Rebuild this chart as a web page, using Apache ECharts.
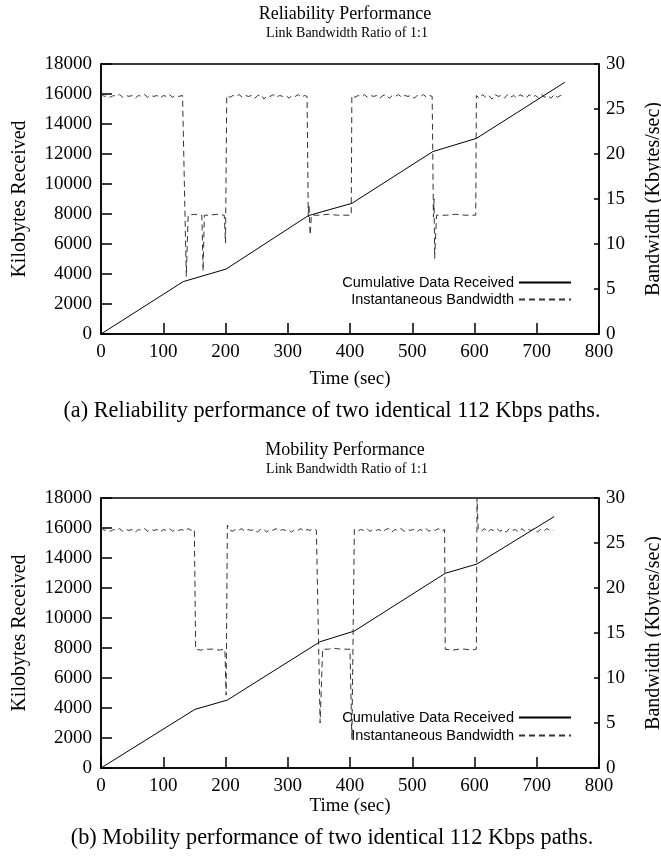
<!DOCTYPE html>
<html>
<head>
<meta charset="utf-8">
<script src="https://cdn.jsdelivr.net/npm/echarts@6/dist/echarts.min.js"></script>
<style>html,body{margin:0;padding:0;background:#fff}#c{width:661px;height:859px}</style>
</head>
<body>
<div id="c"></div>
<script>
// ---------- DATA ----------
var xTicks = [0, 100, 200, 300, 400, 500, 600, 700, 800];
var seriesNames = ['Cumulative Data Received', 'Instantaneous Bandwidth'];

// (a) Reliability: cumulative kilobytes received [time, KB]
var relCumulative = [[0,0],[132,3490],[201,4330],[333,7890],[403,8710],[533,12160],[603,13040],[745,16780]];
// (a) Reliability: instantaneous bandwidth [time, KB/s]
var relBandwidth = [
 [0,26.7],[5,26.4],[10,26.5],[15,26.3],[20,26.5],[25,26.4],[30,26.6],[35,26.3],[40,26.5],[45,26.4],
 [50,26.5],[55,26.2],[60,26.5],[65,26.4],[70,26.6],[75,26.3],[80,26.5],[85,26.4],[90,26.5],[95,26.2],
 [100,26.5],[105,26.4],[110,26.6],[115,26.3],[120,26.5],[125,26.4],[131,26.5],
 [137,6.4],[140,13.2],[150,13.3],[158,13.2],[162,13.2],[164,7.0],[166,13.2],[175,13.2],[185,13.3],[198,13.2],
 [200,10.1],[202,26.5],[207,26.3],[212,26.5],[217,26.4],[222,26.6],[227,26.3],[232,26.5],[237,26.4],
 [242,26.5],[247,26.2],[252,26.5],[257,26.6],[262,26.1],[267,26.5],[272,26.4],[277,26.6],[282,26.3],
 [287,26.5],[292,26.4],[297,26.5],[302,26.2],[307,26.5],[312,26.4],[317,26.6],[322,26.3],[327,26.5],[331,26.4],
 [333,13.0],[334,14.4],[336,11.0],[338,13.2],[350,13.2],[365,13.3],[380,13.2],[402,13.2],
 [403,26.5],[408,26.3],[413,26.5],[418,26.4],[423,26.6],[428,26.3],[433,26.5],[438,26.4],[443,26.5],
 [448,26.2],[453,26.5],[458,26.6],[463,26.2],[468,26.5],[473,26.4],[478,26.6],[483,26.3],[488,26.5],
 [493,26.4],[498,26.5],[503,26.2],[508,26.5],[513,26.4],[518,26.6],[523,26.3],[528,26.5],[532,26.4],
 [534,13.0],[535,15.0],[536,8.4],[539,13.2],[555,13.2],[570,13.3],[585,13.2],[602,13.2],
 [603,26.5],[608,26.2],[613,26.6],[618,26.3],[623,26.5],[628,26.1],[633,26.6],[638,26.4],[643,26.5],
 [648,26.2],[653,26.6],[658,26.3],[663,26.5],[668,26.2],[673,26.6],[678,26.4],[683,26.2],[688,26.6],
 [693,26.3],[698,26.5],[703,26.2],[708,26.6],[713,26.3],[718,26.5],[723,26.2],[728,26.6],[733,26.3],
 [738,26.5],[745,26.4]
];

// (b) Mobility: cumulative kilobytes received [time, KB]
var mobCumulative = [[0,0],[151,3910],[203,4530],[352,8420],[407,9130],[553,12980],[604,13600],[728,16760]];
// (b) Mobility: instantaneous bandwidth [time, KB/s]
var mobBandwidth = [
 [0,26.7],[5,26.4],[10,26.5],[15,26.3],[20,26.5],[25,26.4],[30,26.6],[35,26.3],[40,26.5],[45,26.4],
 [50,26.5],[55,26.2],[60,26.5],[65,26.4],[70,26.6],[75,26.3],[80,26.5],[85,26.4],[90,26.5],[95,26.2],
 [100,26.5],[105,26.4],[110,26.6],[115,26.3],[120,26.5],[125,26.4],[130,26.5],[135,26.3],[140,26.6],
 [145,26.4],[150,26.5],
 [152,13.2],[160,13.1],[170,13.2],[180,13.2],[190,13.1],[199,13.2],
 [201,8.1],[203,27.0],[206,26.5],[211,26.3],[216,26.5],[221,26.4],[226,26.6],[231,26.3],[236,26.5],
 [241,26.4],[246,26.5],[251,26.2],[256,26.5],[261,26.6],[266,26.2],[271,26.5],[276,26.4],[281,26.6],
 [286,26.3],[291,26.5],[296,26.4],[301,26.5],[306,26.2],[311,26.5],[316,26.4],[321,26.6],[326,26.3],
 [331,26.5],[336,26.4],[341,26.6],[346,26.4],[349,26.5],
 [352,5.0],[356,13.2],[365,13.2],[375,13.3],[385,13.2],[400,13.2],
 [403,3.2],[407,26.5],[412,26.3],[417,26.5],[422,26.4],[427,26.6],[432,26.3],[437,26.5],[442,26.4],
 [447,26.5],[452,26.2],[457,26.5],[462,26.6],[467,26.2],[472,26.5],[477,26.4],[482,26.6],[487,26.3],
 [492,26.5],[497,26.4],[502,26.5],[507,26.2],[512,26.5],[517,26.4],[522,26.6],[527,26.3],[532,26.5],
 [537,26.4],[542,26.6],[547,26.3],[552,26.5],
 [553,13.2],[565,13.1],[575,13.2],[585,13.2],[595,13.1],[603,13.2],
 [604,30],[606,26.5],[611,26.3],[616,26.6],[621,26.2],[626,26.5],[631,26.4],[636,26.6],[641,26.3],
 [646,26.5],[651,26.2],[656,26.6],[661,26.4],[666,26.5],[671,26.2],[676,26.6],[681,26.3],[686,26.5],
 [691,26.4],[696,26.6],[701,26.2],[706,26.5],[711,26.3],[716,26.6],[721,26.4],[727,26.4]
];

// ---------- CHART ----------
var SERIF = '"Liberation Serif", "DejaVu Serif", serif';
var SANS = '"Liberation Sans", Arial, sans-serif';
var chart = echarts.init(document.getElementById('c'), null, {renderer: 'canvas'});

var grids = [
  {left: 101, top: 64, width: 498, height: 270},
  {left: 101, top: 498, width: 498, height: 270}
];
function plain(v) { return String(v); }

function xAxis(i, gap) {
  return {
    type: 'value', gridIndex: i, min: 0, max: 800, interval: 100,
    name: 'Time (sec)', nameLocation: 'middle', nameGap: gap,
    nameTextStyle: {fontFamily: SERIF, fontSize: 19, color: '#000'},
    axisLine: {show: true, lineStyle: {color: '#000', width: 1.5}},
    axisTick: {show: true, inside: true, length: 11, lineStyle: {color: '#000', width: 1.5}},
    axisLabel: {fontFamily: SERIF, fontSize: 19, color: '#000', margin: 9, formatter: plain},
    splitLine: {show: false}
  };
}
function yLeft(i) {
  return {
    type: 'value', gridIndex: i, min: 0, max: 18000, interval: 2000, position: 'left',
    name: 'Kilobytes Received', nameLocation: 'middle', nameGap: 71, nameRotate: 90,
    nameTextStyle: {fontFamily: SERIF, fontSize: 20, color: '#000'},
    axisLine: {show: true, lineStyle: {color: '#000', width: 1.5}},
    axisTick: {show: true, inside: true, length: 11, lineStyle: {color: '#000', width: 1.5}},
    axisLabel: {fontFamily: SERIF, fontSize: 19, color: '#000', margin: 9, formatter: plain},
    splitLine: {show: false}
  };
}
function yRight(i) {
  return {
    type: 'value', gridIndex: i, min: 0, max: 30, interval: 5, position: 'right',
    name: 'Bandwidth (Kbytes/sec)', nameLocation: 'middle', nameGap: 45, nameRotate: 90,
    nameTextStyle: {fontFamily: SERIF, fontSize: 20, color: '#000'},
    axisLine: {show: true, lineStyle: {color: '#000', width: 1.5}},
    axisTick: {show: true, inside: true, length: 5, lineStyle: {color: '#000', width: 1.5}},
    axisLabel: {fontFamily: SERIF, fontSize: 19, color: '#000', margin: 7, formatter: plain},
    splitLine: {show: false}
  };
}
function cumSeries(data, xi, yi) {
  return {name: seriesNames[0], type: 'line', xAxisIndex: xi, yAxisIndex: yi, data: data,
    symbol: 'none', animation: false, lineStyle: {color: '#000', width: 1}, itemStyle: {color: '#000'}};
}
function bwSeries(data, xi, yi) {
  return {name: seriesNames[1], type: 'line', xAxisIndex: xi, yAxisIndex: yi, data: data,
    symbol: 'none', animation: false, clip: true,
    lineStyle: {color: '#333', width: 1, type: [6, 4]}, itemStyle: {color: '#333'}};
}
function legend(name, top) {
  return {data: [name], right: 89, top: top, orient: 'horizontal', align: 'right',
    itemWidth: 52, itemHeight: 14, selectedMode: false, padding: 0,
    itemStyle: {opacity: 0},
    textStyle: {fontFamily: SANS, fontSize: 14.5, color: '#000'}};
}
function text(str, x, y, size) {
  return {type: 'text', x: x, y: y, style: {text: str, font: size + 'px ' + SERIF,
    fill: '#000', textAlign: 'center', textVerticalAlign: 'middle'}};
}

chart.setOption({
  animation: false,
  backgroundColor: '#fff',
  grid: grids.map(function (g) { return Object.assign({show: true, borderColor: '#000', borderWidth: 1.5, backgroundColor: 'transparent', containLabel: false, outerBoundsMode: 'none'}, g); }),
  xAxis: [xAxis(0, 36), xAxis(1, 29)],
  yAxis: [yLeft(0), yRight(0), yLeft(1), yRight(1)],
  legend: [
    legend(seriesNames[0], 275), legend(seriesNames[1], 292),
    legend(seriesNames[0], 710), legend(seriesNames[1], 728)
  ],
  series: [
    cumSeries(relCumulative, 0, 0), bwSeries(relBandwidth, 0, 1),
    cumSeries(mobCumulative, 1, 2), bwSeries(mobBandwidth, 1, 3)
  ],
  graphic: [
    text('Reliability Performance', 345, 14, 18),
    text('Link Bandwidth Ratio of 1:1', 347, 33, 14),
    text('(a) Reliability performance of two identical 112 Kbps paths.', 332, 411, 22.3),
    text('Mobility Performance', 345, 450, 18),
    text('Link Bandwidth Ratio of 1:1', 347, 469, 14),
    text('(b) Mobility performance of two identical 112 Kbps paths.', 332, 838, 22.3)
  ]
});
</script>
</body>
</html>
